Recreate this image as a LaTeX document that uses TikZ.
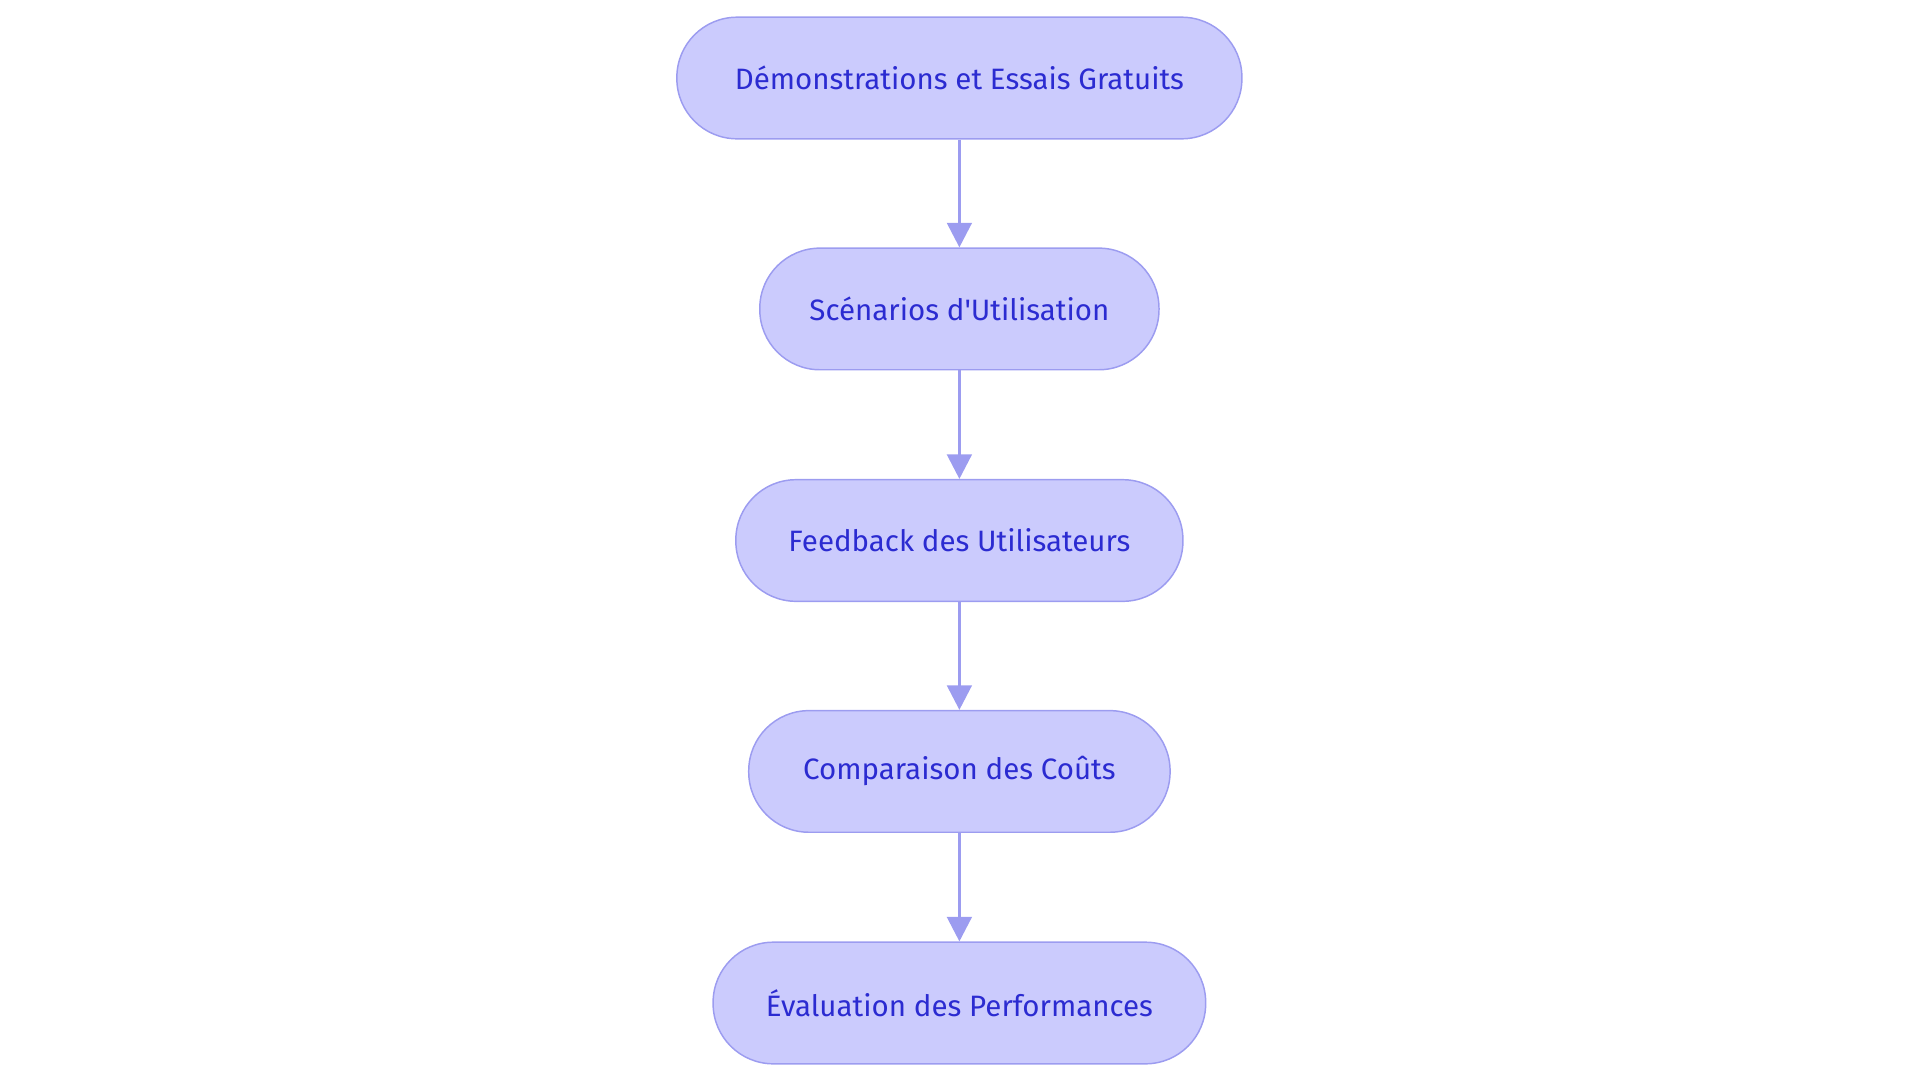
\documentclass[tikz,border=0pt]{standalone}
\usepackage{fontspec}
\setmainfont[Ligatures=TeXOff]{Fira Sans}
\usetikzlibrary{arrows.meta}
\definecolor{nfill}{HTML}{CBCBFD}
\definecolor{ndraw}{HTML}{9C9CF0}
\definecolor{ntext}{HTML}{2B2BD1}
\begin{document}
\begin{tikzpicture}[x=1pt,y=-1pt,
  box/.style={draw=ndraw,fill=nfill,line width=1.2pt,rounded corners=49pt,minimum height=99pt,text=ntext,font=\fontsize{24}{28}\selectfont,inner sep=0pt},
  arr/.style={draw=ndraw,line width=2.6pt,-{Triangle[length=20pt,width=20pt]}}]
\useasboundingbox (0,0) rectangle (1563,881);
\node[box,minimum width=460pt] (a) at (781,63.5) {Démonstrations et Essais Gratuits};
\node[box,minimum width=325pt] (b) at (781,251.5) {Scénarios d'Utilisation};
\node[box,minimum width=364pt] (c) at (781,440) {Feedback des Utilisateurs};
\node[box,minimum width=343pt] (d) at (781,628) {Comparaison des Coûts};
\node[box,minimum width=401pt] (e) at (781,816.5) {Évaluation des Performances};
\draw[arr] (a) -- (b);
\draw[arr] (b) -- (c);
\draw[arr] (c) -- (d);
\draw[arr] (d) -- (e);
\end{tikzpicture}
\end{document}
